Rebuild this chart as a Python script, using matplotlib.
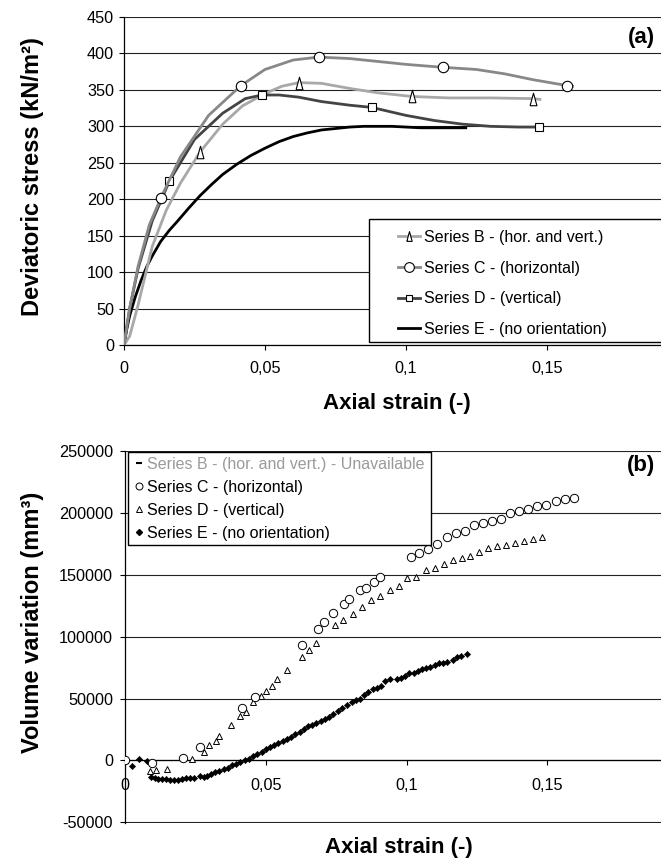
import matplotlib
matplotlib.use("Agg")
import matplotlib.pyplot as plt
from matplotlib.lines import Line2D
from matplotlib.patches import Rectangle

plt.rcParams['font.family'] = ['Liberation Sans', 'DejaVu Sans']
plt.rcParams['axes.unicode_minus'] = False

# ---- panel (a): deviatoric stress vs axial strain ----
b_strain = [0, 0.002, 0.005, 0.01, 0.015, 0.02, 0.027, 0.035, 0.042, 0.05, 0.056, 0.062,
            0.07, 0.08, 0.09, 0.102, 0.115, 0.13, 0.145, 0.1475]
b_stress = [0, 12, 55, 135, 185, 222, 265, 303, 328, 345, 355, 360,
            359, 352, 346, 341, 339, 339, 338, 337]
b_marks = [6, 11, 15, 18]

c_strain = [0, 0.002, 0.005, 0.009, 0.0131, 0.02, 0.03, 0.0415, 0.05, 0.06, 0.069,
            0.08, 0.09, 0.1, 0.113, 0.125, 0.135, 0.145, 0.157, 0.159]
c_stress = [0, 50, 108, 165, 202, 258, 315, 356, 378, 391, 395,
            393, 389, 385, 381, 378, 372, 364, 356, 355]
c_marks = [4, 7, 10, 14, 18]

d_strain = [0, 0.002, 0.005, 0.01, 0.0161, 0.025, 0.035, 0.043, 0.0489, 0.055, 0.062,
            0.07, 0.08, 0.0878, 0.1, 0.11, 0.12, 0.13, 0.14, 0.1473]
d_stress = [0, 50, 105, 170, 225, 282, 318, 338, 343, 343, 340,
            334, 329, 326, 315, 308, 303, 300, 299, 299]
d_marks = [4, 8, 13, 19]

e_strain = [0, 0.001, 0.002, 0.004, 0.006, 0.008, 0.01, 0.013, 0.016, 0.019, 0.023, 0.027,
            0.031, 0.035, 0.04, 0.045, 0.05, 0.055, 0.06, 0.065, 0.07, 0.075, 0.08, 0.085,
            0.09, 0.095, 0.1, 0.105, 0.11, 0.115, 0.1212]
e_stress = [0, 22, 40, 66, 88, 107, 122, 142, 157, 170, 188, 205,
            220, 234, 248, 260, 270, 279, 286, 291, 295, 297, 299, 300,
            300, 300, 299, 298, 298, 298, 298]

# ---- panel (b): volume variation vs axial strain ----
vc_strain = [0, 0.0095, 0.0205, 0.0267, 0.0415, 0.0462, 0.063, 0.0687, 0.0707, 0.074,
             0.0777, 0.0796, 0.0835, 0.0855, 0.0886, 0.0906, 0.1015, 0.1046, 0.1078, 0.111,
             0.1143, 0.1175, 0.1207, 0.124, 0.1271, 0.1303, 0.1335, 0.1368, 0.14, 0.1431,
             0.1464, 0.1496, 0.153, 0.1562, 0.1594]
vc_vol = [0, -1900, 2100, 10700, 42400, 51000, 93400, 106300, 112000, 119500,
          126500, 130200, 137500, 139600, 144500, 148500, 164300, 167600, 171000, 174500,
          180200, 183700, 185000, 190400, 192000, 193300, 194700, 200300, 201900, 203300,
          205200, 206500, 209700, 211100, 212400]

vd_strain = [0, 0.0089, 0.011, 0.0148, 0.0238, 0.028, 0.0299, 0.0322, 0.0334, 0.0376,
             0.0409, 0.043, 0.0456, 0.0483, 0.05, 0.0521, 0.0539, 0.0577, 0.0628, 0.0654,
             0.068, 0.0745, 0.0776, 0.081, 0.0841, 0.0873, 0.0906, 0.094, 0.0972, 0.1002,
             0.1034, 0.1068, 0.11, 0.1132, 0.1164, 0.1197, 0.1226, 0.1258, 0.1289, 0.1322,
             0.1354, 0.1386, 0.1419, 0.1451, 0.1483]
vd_vol = [0, -8600, -7800, -6700, 1300, 6700, 12400, 16100, 19600, 28700,
          36200, 38900, 47000, 51800, 56100, 59900, 65800, 73300, 83200, 89400,
          94800, 109300, 113100, 118700, 124300, 129700, 133200, 137800, 141200, 147700,
          148200, 153900, 155500, 158700, 161900, 163500, 164900, 168400, 171600, 173500,
          174300, 175900, 177200, 178800, 180700]

ve_strain = [0, 0.0024, 0.0051, 0.0078, 0.0092, 0.0105, 0.0118, 0.013, 0.0145, 0.016,
             0.0175, 0.019, 0.0204, 0.0218, 0.0232, 0.0245, 0.0267, 0.028, 0.029, 0.0305,
             0.032, 0.0335, 0.035, 0.0365, 0.038, 0.0395, 0.041, 0.0425, 0.044, 0.0455,
             0.047, 0.0485, 0.05, 0.0515, 0.053, 0.0545, 0.056, 0.0575, 0.059, 0.0605,
             0.062, 0.0635, 0.065, 0.0665, 0.068, 0.0695, 0.071, 0.0725, 0.074, 0.0755,
             0.077, 0.0788, 0.0805, 0.082, 0.0835, 0.085, 0.0865, 0.088, 0.0895, 0.091,
             0.0925, 0.094, 0.0965, 0.098, 0.0995, 0.101, 0.1025, 0.104, 0.1055, 0.107,
             0.1085, 0.11, 0.1115, 0.113, 0.1145, 0.1165, 0.118, 0.1195, 0.1214]
ve_vol = [0, -4600, 1300, -500, -13000, -14500, -15000, -15000, -15300, -15500,
          -15800, -16000, -15300, -14300, -14000, -14300, -12800, -13000, -12600, -11000,
          -9500, -8300, -7200, -6000, -4000, -2500, -1200, 0, 1500, 3500,
          5000, 7000, 8900, 10500, 12500, 14000, 16000, 17700, 19200, 21000,
          22800, 25500, 27500, 29000, 30500, 32000, 33500, 35500, 37600, 40000,
          42500, 44800, 47000, 48500, 49700, 52500, 55000, 57500, 58500, 60500,
          64000, 65500, 65800, 66500, 68000, 70500, 71000, 72000, 73500, 74500,
          75500, 77000, 78500, 79000, 79500, 81500, 83500, 84000, 86200]

x_ticks = [0, 0.05, 0.1, 0.15]
x_labels = ['0', '0,05', '0,1', '0,15']

labels_a = ['Series B - (hor. and vert.)', 'Series C - (horizontal)',
            'Series D - (vertical)', 'Series E - (no orientation)']
labels_b = ['Series B - (hor. and vert.) - Unavailable', 'Series C - (horizontal)',
            'Series D - (vertical)', 'Series E - (no orientation)']

W, H = 661, 859
fig = plt.figure(figsize=(W / 100, H / 100), dpi=100)

def px_box(left, top, right, bottom):
    return [left / W, 1 - bottom / H, (right - left) / W, (bottom - top) / H]

tall_tri = [(-0.55, -1), (0.55, -1), (0, 1), (-0.55, -1)]
col_b, col_c, col_d, col_e = '#a8a8a8', '#888888', '#444444', '#000000'
tick_fs = 11.7

def style_axes(ax):
    for s in ['top', 'right']:
        ax.spines[s].set_visible(False)
    for s in ['left', 'bottom']:
        ax.spines[s].set_linewidth(0.9)
    ax.yaxis.grid(True, color='#222222', lw=0.8)
    ax.set_axisbelow(True)
    ax.set_xticks(x_ticks)
    ax.set_xticklabels(x_labels)
    ax.tick_params(axis='both', direction='out', length=3.6, width=0.8,
                   labelsize=tick_fs)
    ax.tick_params(axis='y', pad=3.5)

# ---------------- panel (a) ----------------
ax1 = fig.add_axes(px_box(124, 17, 688, 345))
style_axes(ax1)
ax1.tick_params(axis='x', pad=8)
ax1.set_xlim(0, 0.2)
ax1.set_ylim(0, 450)
ax1.set_yticks(range(0, 451, 50))

ax1.plot(e_strain, e_stress, color=col_e, lw=2, zorder=3)
ax1.plot(b_strain, b_stress, color=col_b, lw=2, marker=tall_tri, markersize=9,
         mfc='white', mec='black', mew=0.8, markevery=b_marks, zorder=3)
ax1.plot(d_strain, d_stress, color=col_d, lw=2, marker='s', markersize=5.5,
         mfc='white', mec='black', mew=0.8, markevery=d_marks, zorder=3)
ax1.plot(c_strain, c_stress, color=col_c, lw=2, marker='o', markersize=7.5,
         mfc='white', mec='black', mew=0.8, markevery=c_marks, zorder=3)

handles_a = [
    Line2D([], [], color=col_b, lw=2, marker=tall_tri, markersize=7, mfc='white', mec='black', mew=0.8),
    Line2D([], [], color=col_c, lw=2, marker='o', markersize=7, mfc='white', mec='black', mew=0.8),
    Line2D([], [], color=col_d, lw=2, marker='s', markersize=5, mfc='white', mec='black', mew=0.8),
    Line2D([], [], color=col_e, lw=2),
]
ax1.add_patch(Rectangle((369 / W, 1 - 342 / H), 340 / W, 123 / H, transform=fig.transFigure,
                        facecolor='white', edgecolor='black', lw=1, clip_on=False, zorder=4))
ax1.legend(handles_a, labels_a, loc='upper left', bbox_to_anchor=(398 / W, 1 - 230 / H),
           bbox_transform=fig.transFigure, frameon=False, borderpad=0, borderaxespad=0,
           handlelength=1.4, handletextpad=0.2, labelspacing=0.98, fontsize=11.5)

ax1.text(0.1883, 422, '(a)', ha='right', va='center', fontsize=16, fontweight='bold')
ax1.set_xlabel('Axial strain (-)', fontsize=16, fontweight='bold', va='center')
ax1.xaxis.set_label_coords((397 - 124) / 564, (345 - 403) / 328)
ax1.set_ylabel('Deviatoric stress (kN/m²)', fontsize=17, fontweight='bold', va='center')
ax1.yaxis.set_label_coords((33 - 124) / 564, (345 - 177) / 328)

# ---------------- panel (b) ----------------
ax2 = fig.add_axes(px_box(125, 451, 688, 823))
style_axes(ax2)
ax2.spines['bottom'].set_position(('data', 0))
ax2.tick_params(axis='x', pad=9)
ax2.tick_params(axis='y', pad=5)
ax2.set_xlim(0, 0.2)
ax2.set_ylim(-50500, 250000)
ax2.set_yticks(range(-50000, 250001, 50000))

ax2.plot(ve_strain, ve_vol, ls='none', marker='D', markersize=3.2, color='black',
         mew=0.4, zorder=3)
ax2.plot(vd_strain, vd_vol, ls='none', marker='^', markersize=5, mfc='white',
         mec='black', mew=0.7, zorder=3)
ax2.plot(vc_strain, vc_vol, ls='none', marker='o', markersize=6, mfc='white',
         mec='black', mew=0.7, zorder=3)

handles_b = [
    Line2D([], [], ls='none', marker='_', markersize=4, color='black', mew=1.5),
    Line2D([], [], ls='none', marker='o', markersize=5, mfc='white', mec='black', mew=0.7),
    Line2D([], [], ls='none', marker='^', markersize=4.5, mfc='white', mec='black', mew=0.7),
    Line2D([], [], ls='none', marker='D', markersize=3, color='black'),
]
ax2.add_patch(Rectangle((128 / W, 1 - 545 / H), 303 / W, 93 / H, transform=fig.transFigure,
                        facecolor='white', edgecolor='black', lw=1, clip_on=False, zorder=4))
leg_b = ax2.legend(handles_b, labels_b, loc='upper left', bbox_to_anchor=(135 / W, 1 - 457 / H),
                   bbox_transform=fig.transFigure, frameon=False, borderpad=0, borderaxespad=0,
                   handlelength=0.5, handletextpad=0.25, labelspacing=0.5, fontsize=11.5)
leg_b.get_texts()[0].set_color('#9a9a9a')

ax2.text(0.1883, 237900, '(b)', ha='right', va='center', fontsize=16, fontweight='bold')
ax2.set_xlabel('Axial strain (-)', fontsize=16, fontweight='bold', va='center')
ax2.xaxis.set_label_coords((399 - 125) / 563, (823 - 848) / 372)
ax2.set_ylabel('Volume variation (mm³)', fontsize=17, fontweight='bold', va='center')
ax2.yaxis.set_label_coords((33 - 125) / 563, (823 - 622) / 372)

fig.savefig('out.png', dpi=100)
